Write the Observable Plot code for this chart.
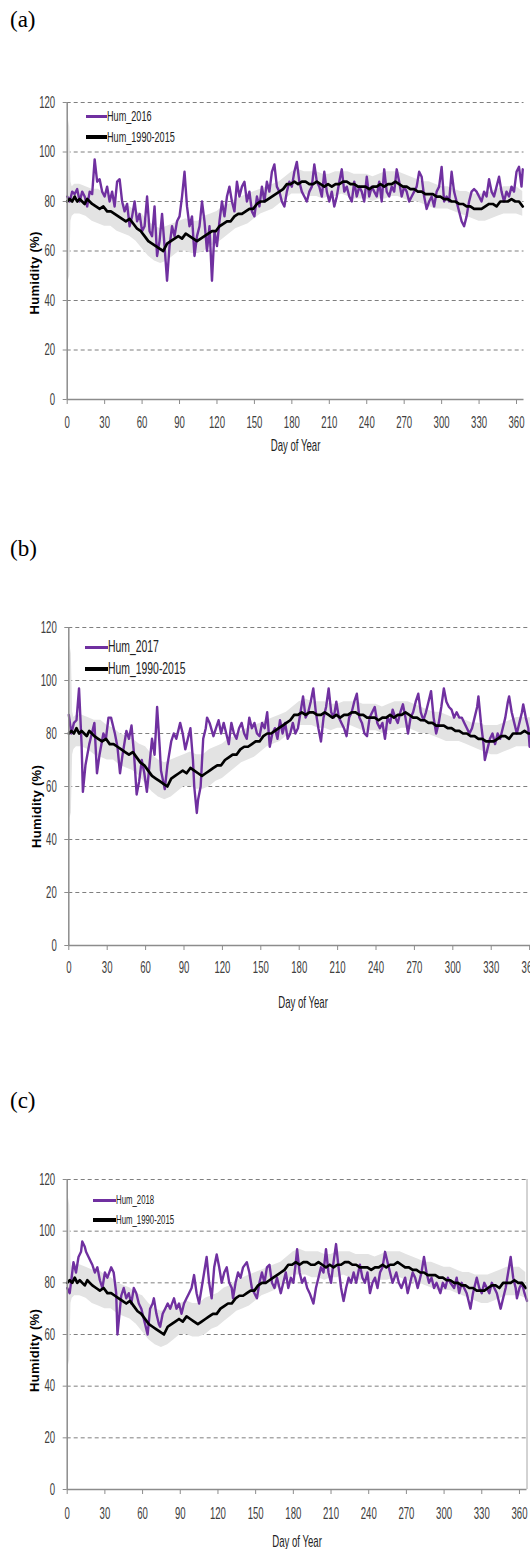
<!DOCTYPE html>
<html><head><meta charset="utf-8">
<script src="https://cdn.jsdelivr.net/npm/d3@7"></script>
<script src="https://cdn.jsdelivr.net/npm/@observablehq/plot@0.6"></script>
<style>
html,body{margin:0;padding:0;background:#fff;}
body{width:530px;height:1549px;position:relative;overflow:hidden;}
.panel{position:absolute;left:0;max-width:none !important;}
.plabel{position:absolute;left:10px;font-family:"Liberation Serif","Times New Roman",serif;font-size:23px;color:#000;line-height:1;}
.lrow{position:absolute;display:flex;align-items:center;white-space:nowrap;font-family:"Liberation Sans",Arial,sans-serif;color:#222;}
.lrow .sw{display:inline-block;flex:none;}
.lrow .tx{display:inline-block;transform-origin:0 50%;}
</style>
</head><body>
<script>
// ---------- data (day of year, relative humidity %) ----------
const xTicks = [0,30,60,90,120,150,180,210,240,270,300,330,360];
const yTicks = [0,20,40,60,80,100,120];
const gridTicks = [20,40,60,80,100,120];

// 1990-2015 daily mean humidity
const clim = [[0,80],[2,81],[4,80],[6,82],[8,80],[10,81],[12,80],[14,79],[16,81],[18,80],[20,79],[23,78],[26,77],[29,78],[32,76],[35,76],[38,75],[41,74],[44,73],[47,72],[50,73],[53,71],[56,69],[59,68],[62,66],[65,64],[68,63],[71,62],[74,61],[77,60],[80,63],[83,64],[86,65],[89,66],[92,65],[95,67],[98,66],[101,65],[104,64],[107,65],[110,66],[113,67],[116,68],[119,68],[122,70],[125,71],[128,72],[131,72],[134,74],[137,75],[140,75],[143,76],[146,77],[149,77],[152,79],[155,80],[158,80],[161,81],[164,82],[167,83],[170,84],[173,85],[176,87],[179,87],[182,88],[185,87],[188,88],[191,88],[194,87],[197,87],[200,88],[203,87],[206,86],[209,87],[212,86],[215,87],[218,87],[221,88],[224,88],[227,87],[230,87],[233,86],[236,86],[239,86],[242,85],[245,86],[248,86],[251,87],[254,86],[257,87],[260,87],[263,88],[266,87],[269,86],[272,86],[275,85],[278,85],[281,84],[284,84],[287,83],[290,83],[293,83],[296,82],[299,82],[302,81],[305,81],[308,80],[311,80],[314,79],[317,79],[320,78],[323,78],[326,77],[329,77],[332,77],[335,78],[338,79],[341,79],[344,78],[347,80],[350,80],[353,80],[356,81],[359,80],[362,80],[365,78]];

// 1990-2015 spread (day, low, high)
const climBand = [[0,76,85],[1,48,113],[2,50,110],[3,72,88],[4,74,86],[6,75,87],[10,75,87],[15,74,86],[20,72,85],[25,71,85],[30,70,83],[35,70,82],[40,68,80],[45,67,79],[50,66,78],[55,64,76],[60,61,75],[65,58,72],[70,56,70],[75,55,69],[80,56,70],[85,58,71],[90,60,72],[95,60,73],[100,59,72],[105,59,72],[110,60,74],[115,62,75],[120,63,76],[125,65,78],[130,67,79],[135,69,81],[140,70,82],[145,71,83],[150,73,84],[155,75,85],[160,76,86],[165,77,87],[170,79,88],[175,81,90],[180,83,92],[185,83,93],[190,83,92],[195,82,92],[200,82,92],[205,81,91],[210,82,91],[215,82,92],[220,83,92],[225,82,92],[230,81,91],[235,81,91],[240,81,91],[245,80,90],[250,81,91],[255,81,92],[260,82,92],[265,82,92],[270,81,91],[275,80,90],[280,80,89],[285,79,88],[290,78,88],[295,77,87],[300,77,86],[305,77,86],[310,76,85],[315,75,84],[320,74,84],[325,73,83],[330,72,83],[335,72,83],[340,73,84],[345,74,85],[350,75,86],[355,75,86],[360,75,86],[365,74,84]];

const hum2016 = [[0,82],[2,80],[4,84],[6,83],[8,85],[10,80],[12,84],[14,82],[16,78],[18,84],[20,83],[22,97],[24,88],[26,89],[28,84],[30,82],[32,86],[34,80],[36,84],[38,78],[40,88],[42,89],[44,80],[46,76],[48,79],[50,70],[52,74],[54,80],[56,72],[58,75],[60,68],[62,70],[64,82],[66,68],[68,66],[70,78],[72,58],[74,64],[76,75],[78,62],[80,48],[82,62],[84,70],[86,66],[88,72],[90,74],[92,82],[94,92],[96,78],[98,70],[100,74],[102,58],[104,66],[106,70],[108,80],[110,72],[112,60],[114,70],[116,48],[118,68],[120,62],[122,72],[124,80],[126,74],[128,82],[130,86],[132,80],[134,76],[136,88],[138,82],[140,86],[142,88],[144,80],[146,84],[148,76],[150,74],[152,82],[154,78],[156,86],[158,80],[160,88],[162,84],[164,92],[166,95],[168,86],[170,84],[172,80],[174,78],[176,84],[178,88],[180,86],[182,92],[184,96],[186,88],[188,84],[190,82],[192,80],[194,84],[196,86],[198,95],[200,88],[202,86],[204,82],[206,92],[208,84],[210,80],[212,84],[214,78],[216,82],[218,88],[220,93],[222,84],[224,86],[226,82],[228,80],[230,88],[232,82],[234,86],[236,84],[238,80],[240,90],[242,82],[244,86],[246,84],[248,82],[250,88],[252,80],[254,93],[256,84],[258,82],[260,86],[262,84],[264,93],[266,88],[268,82],[270,86],[272,84],[274,80],[276,82],[278,84],[280,86],[282,92],[284,90],[286,82],[288,77],[290,80],[292,82],[294,78],[296,84],[298,86],[300,94],[302,80],[304,82],[306,80],[308,92],[310,84],[312,80],[314,76],[316,72],[318,70],[320,74],[322,80],[324,84],[326,85],[328,84],[330,82],[332,80],[334,84],[336,82],[338,89],[340,84],[342,82],[344,86],[346,90],[348,84],[350,80],[352,84],[354,82],[356,86],[358,84],[360,92],[362,94],[364,86],[365,93]];

const hum2017 = [[0,87],[2,80],[4,84],[6,85],[8,97],[10,76],[11,58],[13,68],[16,76],[18,80],[20,84],[22,65],[24,72],[27,80],[29,78],[31,86],[33,86],[36,80],[38,75],[40,65],[42,72],[45,81],[47,78],[49,83],[51,72],[53,57],[55,62],[57,70],[59,65],[61,58],[63,68],[65,78],[67,72],[69,90],[71,75],[72,66],[75,59],[77,68],[80,77],[82,80],[84,78],[87,84],[89,80],[91,74],[93,78],[95,82],[97,70],[98,60],[100,50],[101,55],[103,60],[105,78],[107,82],[108,86],[110,84],[113,79],[115,82],[117,85],[119,80],[121,84],[123,80],[125,76],[127,84],[129,80],[131,78],[133,82],[135,84],[137,80],[139,78],[141,86],[143,82],[145,84],[147,80],[149,79],[151,84],[153,82],[155,88],[157,75],[159,80],[161,82],[163,78],[165,85],[167,80],[169,84],[171,78],[173,80],[175,84],[177,80],[179,82],[181,88],[183,94],[185,86],[187,88],[189,92],[191,97],[193,88],[195,82],[197,77],[199,86],[201,90],[203,97],[205,88],[207,86],[209,92],[211,86],[213,84],[215,82],[217,79],[219,86],[221,88],[223,92],[225,95],[227,86],[229,84],[231,80],[233,79],[235,86],[237,88],[239,90],[241,84],[243,82],[245,84],[247,78],[249,86],[251,84],[253,89],[255,86],[257,84],[259,88],[261,91],[263,86],[265,80],[267,86],[269,88],[271,92],[273,95],[275,88],[277,85],[279,88],[281,92],[283,96],[285,86],[287,80],[289,84],[291,90],[293,97],[295,92],[297,90],[299,89],[301,86],[303,88],[305,86],[307,86],[309,84],[311,82],[313,80],[315,82],[317,86],[319,90],[320,94],[322,84],[324,76],[325,70],[327,74],[329,78],[331,80],[333,76],[335,80],[337,78],[339,82],[341,86],[343,92],[344,94],[346,88],[348,84],[350,80],[352,84],[354,88],[355,91],[357,86],[359,82],[360,75],[362,82],[364,84],[366,86]];

const hum2018 = [[0,78],[2,76],[3,80],[5,88],[7,84],[9,90],[11,92],[12,96],[14,94],[15,92],[17,90],[19,88],[20,87],[22,84],[24,86],[26,81],[28,78],[30,84],[32,82],[35,86],[37,84],[39,76],[40,60],[42,70],[43,75],[45,78],[47,74],[49,76],[51,72],[53,78],[55,76],[57,72],[59,70],[61,66],[63,62],[64,60],[66,70],[68,72],[69,74],[71,68],[73,64],[74,63],[76,68],[78,70],[80,72],[82,70],[85,74],[87,70],[89,72],[91,68],[93,72],[95,74],[97,76],[99,78],[101,83],[103,76],[105,72],[107,78],[109,84],[111,90],[113,80],[115,74],[117,86],[119,91],[121,86],[123,80],[125,84],[127,86],[129,80],[131,78],[132,74],[134,80],[136,84],[138,82],[140,86],[143,88],[145,84],[147,78],[149,76],[151,74],[153,80],[155,84],[157,80],[159,86],[161,87],[163,80],[165,78],[167,82],[170,76],[172,80],[174,84],[176,78],[178,82],[180,80],[182,88],[183,93],[185,84],[187,80],[189,82],[191,78],[193,76],[196,72],[198,78],[200,82],[202,86],[204,84],[206,93],[208,84],[210,80],[212,88],[214,95],[216,86],[218,78],[220,73],[222,78],[224,82],[226,80],[228,84],[230,80],[233,87],[235,82],[237,80],[239,84],[241,76],[243,80],[245,82],[247,78],[249,84],[251,86],[253,92],[255,88],[257,84],[259,80],[262,84],[264,80],[266,78],[269,82],[271,76],[273,80],[275,84],[277,82],[279,78],[282,84],[284,90],[286,84],[288,80],[290,82],[292,78],[294,80],[297,76],[299,80],[301,78],[303,82],[305,80],[308,78],[310,82],[312,76],[314,80],[316,78],[318,76],[321,70],[323,76],[326,82],[328,78],[330,76],[332,80],[334,78],[336,76],[338,80],[340,78],[342,76],[345,70],[347,74],[349,78],[351,84],[353,90],[355,82],[357,78],[358,74],[360,78],[362,80],[364,76],[366,73]];

const panelNames = ["(a)","(b)","(c)"];
const yearNames = ["Hum_2016","Hum_2017","Hum_2018"];
const climName = "Hum_1990-2015";
const xLabel = "Day of Year";
const yLabel = "Humidity (%)";

// ---------- drawing ----------
const PURPLE = "#7030a0";
const SQUEEZE = 0.6;   // narrow (Calibri-like) text

function squeeze(nodes, s) {
  nodes.forEach(t => {
    const tr = t.getAttribute("transform") || "";
    t.setAttribute("transform", (tr + ` scale(${s},1)`).trim());
  });
}

function panel(cfg, hum) {
  const plot = Plot.plot({
    width: cfg.width, height: cfg.height,
    marginLeft: cfg.ml, marginRight: cfg.mr, marginTop: cfg.mt, marginBottom: cfg.mb,
    style: {fontFamily: '"Liberation Sans",Arial,sans-serif', fontSize: "16px", color: "#404040", background: "transparent", overflow: "visible"},
    x: {domain: [0, 366]},
    y: {domain: [0, 120]},
    marks: [
      Plot.gridY(gridTicks, {stroke: "#7f7f7f", strokeOpacity: 1, strokeDasharray: "4,3", strokeWidth: 1}),
      Plot.areaY(climBand, {x: d => d[0], y1: d => d[1], y2: d => d[2], fill: "#e3e3e3"}),
      Plot.lineY(hum, {x: d => d[0], y: d => d[1], stroke: PURPLE, strokeWidth: 2.4}),
      Plot.lineY(clim, {x: d => d[0], y: d => d[1], stroke: "#000", strokeWidth: 2.7}),
      Plot.ruleY([0], {stroke: "#8c8c8c", strokeWidth: 1.5}),
      Plot.ruleX([0], {stroke: "#8c8c8c", strokeWidth: 1.5}),
      ...(cfg.rightFrame ? [Plot.ruleX([366], {stroke: "#a6a6a6", strokeWidth: 1})] : []),
      Plot.axisX(xTicks, {tickSize: 5, tickPadding: cfg.xpad, stroke: "#8c8c8c", label: xLabel, labelAnchor: "center", labelArrow: "none", labelOffset: cfg.xlo, fontSize: 16}),
      Plot.axisY(yTicks, {tickSize: 4, tickPadding: 8, stroke: "#8c8c8c", label: yLabel, labelAnchor: "center", labelArrow: "none", labelOffset: 37, fontSize: 16})
    ]
  });
  plot.classList.add("panel");
  plot.style.top = cfg.top + "px";
  plot.style.maxWidth = "none";
  squeeze(plot.querySelectorAll("g[aria-label='x-axis tick label'] text"), SQUEEZE);
  squeeze(plot.querySelectorAll("g[aria-label='y-axis tick label'] text"), SQUEEZE);
  const xl = plot.querySelectorAll("g[aria-label='x-axis label'] text");
  xl.forEach(t => t.setAttribute("fill", "#222"));
  squeeze(xl, SQUEEZE);
  plot.querySelectorAll("g[aria-label='y-axis label'] text").forEach(t => {
    t.setAttribute("font-weight", "bold");
    t.setAttribute("fill", "#000");
    t.setAttribute("font-size", "13");
    t.setAttribute("letter-spacing", "0.3");
    const tr = t.getAttribute("transform") || "";
    t.setAttribute("transform", `translate(0,${cfg.ylShift}) ` + tr);
  });
  document.body.appendChild(plot);
}

function label(txt, top) {
  const d = document.createElement("div");
  d.className = "plabel"; d.textContent = txt; d.style.top = top + "px";
  document.body.appendChild(d);
}

function legend(cfg, name) {
  [[name, PURPLE, cfg.ly1, 3], [climName, "#000", cfg.ly2, 4]].forEach(([t, c, y, h]) => {
    const r = document.createElement("div");
    r.className = "lrow";
    r.style.left = cfg.lx + "px"; r.style.top = (y - 10) + "px"; r.style.height = "20px";
    r.style.fontSize = cfg.lfs + "px";
    const s = document.createElement("span");
    s.className = "sw"; s.style.background = c; s.style.width = cfg.lsw + "px"; s.style.height = h + "px";
    const tx = document.createElement("span");
    tx.className = "tx"; tx.textContent = t; tx.style.transform = `scaleX(0.65)`;
    r.appendChild(s); r.appendChild(tx);
    document.body.appendChild(r);
  });
}

const cfgs = [
  {top: 80, width: 530, height: 379, ml: 66.7, mr: 6.5, mt: 22, mb: 60, xpad: 12, xlo: 51, ylShift: 22, lx: 86, ly1: 116, ly2: 137, lfs: 14, lsw: 21, rightFrame: false},
  {top: 600, width: 545, height: 405, ml: 68.3, mr: 8.2, mt: 27, mb: 60, xpad: 11, xlo: 62, ylShift: 20, lx: 85, ly1: 647, ly2: 669, lfs: 16, lsw: 23, rightFrame: false},
  {top: 1150, width: 530, height: 399, ml: 66.7, mr: 3.5, mt: 29, mb: 60, xpad: 13, xlo: 57, ylShift: 16, lx: 93, ly1: 1200, ly2: 1220, lfs: 12, lsw: 23, rightFrame: true}
];
const hums = [hum2016, hum2017, hum2018];
const labelTops = [8, 537, 1089];

cfgs.forEach((c, i) => {
  panel(c, hums[i]);
  label(panelNames[i], labelTops[i]);
  legend(c, yearNames[i]);
});
</script>
</body></html>
